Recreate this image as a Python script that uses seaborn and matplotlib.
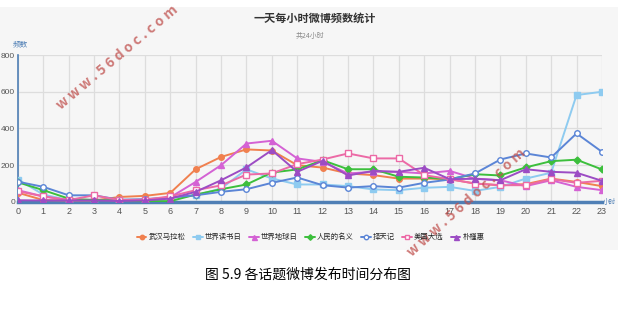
import numpy as np
import pandas as pd
import matplotlib
matplotlib.use("Agg")
import matplotlib.pyplot as plt
import seaborn as sns
from matplotlib.patches import Rectangle

sns.set_theme(style="white")
plt.rcParams['font.family'] = ['Noto Sans CJK SC', 'DejaVu Sans']

hours = list(range(24))
series_names = ["武汉马拉松", "世界读书日", "世界地球日", "人民的名义", "择天记", "美国大选", "朴槿惠"]
wuhan_marathon = [50, 10, 8, 8, 27, 33, 49, 178, 245, 286, 280, 200, 187, 155, 146, 127, 127, 124, 100, 91, 97, 127, 109, 86]
world_book_day = [122, 40, 10, 10, 10, 10, 20, 36, 73, 177, 128, 95, 95, 86, 68, 64, 77, 82, 60, 82, 127, 159, 582, 600]
earth_day = [64, 30, 10, 12, 8, 10, 25, 109, 200, 318, 333, 237, 218, 155, 164, 164, 155, 169, 127, 118, 86, 118, 82, 64]
in_the_name = [107, 64, 18, 10, 8, 5, 4, 40, 69, 95, 160, 177, 227, 178, 178, 137, 133, 124, 151, 144, 188, 222, 230, 177]
zetianji = [110, 82, 36, 36, 12, 15, 25, 36, 55, 69, 104, 133, 91, 78, 86, 78, 104, 122, 155, 231, 264, 242, 373, 273]
us_election = [58, 30, 10, 36, 10, 12, 30, 64, 90, 149, 155, 206, 231, 264, 237, 237, 146, 124, 100, 91, 91, 124, 104, 115]
park_geunhye = [9, 8, 8, 8, 5, 8, 18, 55, 118, 188, 282, 164, 224, 144, 169, 164, 186, 124, 126, 118, 178, 164, 159, 115]
y_ticks = [0, 200, 400, 600, 800]

values = [wuhan_marathon, world_book_day, earth_day, in_the_name, zetianji, us_election, park_geunhye]
colors = ['#f0804f', '#8ecbf0', '#d462d4', '#3cbf3c', '#5b85d6', '#ec6aa6', '#9c4cc4']
markers = ['o', 's', '^', 'D', 'o', 's', '^']
filled = [True, True, True, True, False, False, True]
msizes = [4, 4, 4.5, 3.5, 4, 4, 4.5]

df = pd.DataFrame({
    "hour": hours * len(series_names),
    "count": sum(values, []),
    "topic": sum([[n] * len(hours) for n in series_names], []),
})

fig = plt.figure(figsize=(6.18, 3.20), dpi=100)
fig.patch.set_facecolor('white')
fig.add_artist(Rectangle((0, 0.219), 1, 0.759, transform=fig.transFigure,
                         facecolor='#f6f6f6', edgecolor='none', zorder=0))

ax = fig.add_axes([0.029, 0.369, 0.945, 0.459])
ax.set_facecolor('none')

for i, name in enumerate(series_names):
    sub = df[df["topic"] == name]
    sns.lineplot(data=sub, x="hour", y="count", ax=ax, color=colors[i], lw=1.4,
                 marker=markers[i], markersize=msizes[i],
                 markerfacecolor=colors[i] if filled[i] else 'white',
                 markeredgecolor=colors[i], markeredgewidth=1.0,
                 label=name, legend=False, zorder=3)

ax.set_xlim(0, 23)
ax.set_ylim(0, 800)
ax.set_xticks(hours)
ax.set_xticklabels([str(h) for h in hours], fontsize=6.5, color='#555555',
                   family='Liberation Sans')
ax.set_yticks(y_ticks)
ax.set_yticklabels([str(v) for v in y_ticks], fontsize=6, color='#555555',
                   family='Liberation Sans')
ax.tick_params(axis='x', length=0, pad=4)
ax.tick_params(axis='y', length=0, pad=2)
ax.grid(True, color='#dddddd', lw=0.9, zorder=0)
ax.set_axisbelow(True)
for s in ['top', 'right']:
    ax.spines[s].set_visible(False)
ax.spines['left'].set_color('#4f7fb5')
ax.spines['left'].set_linewidth(1.2)
ax.spines['bottom'].set_color('#4f7fb5')
ax.spines['bottom'].set_linewidth(2.5)
ax.set_xlabel('')
ax.set_ylabel('')

fig.text(0.033, 0.862, '频数', fontsize=5.5, color='#4f7fb5', ha='center', va='center')
fig.text(0.976, 0.369, '小时', fontsize=4.8, color='#4f7fb5', ha='left', va='center')

fig.text(0.51, 0.943, '一天每小时微博频数统计', fontsize=8, fontweight='bold', color='#333333',
         ha='center', va='center')
fig.text(0.502, 0.888, '共24小时', fontsize=5, color='#888888', ha='center', va='center')

handles, labels = ax.get_legend_handles_labels()
fig.legend(handles, labels, loc='center', bbox_to_anchor=(0.503, 0.259), ncol=7,
           fontsize=5.3, frameon=False, handlelength=1.3, handletextpad=0.3,
           columnspacing=1.0, markerscale=0.8)

fig.text(0.498, 0.14, '图 5.9 各话题微博发布时间分布图', fontsize=10, color='black',
         ha='center', va='center')

wm = 'w w w . 5 6 d o c . c o m'
fig.text(0.19, 0.82, wm, fontsize=10, fontweight='bold', color='#c0504d', alpha=0.75,
         rotation=40, ha='center', va='center')
fig.text(0.754, 0.366, wm, fontsize=10, fontweight='bold', color='#c0504d', alpha=0.75,
         rotation=42, ha='center', va='center')

fig.savefig('out.png', dpi=100)
